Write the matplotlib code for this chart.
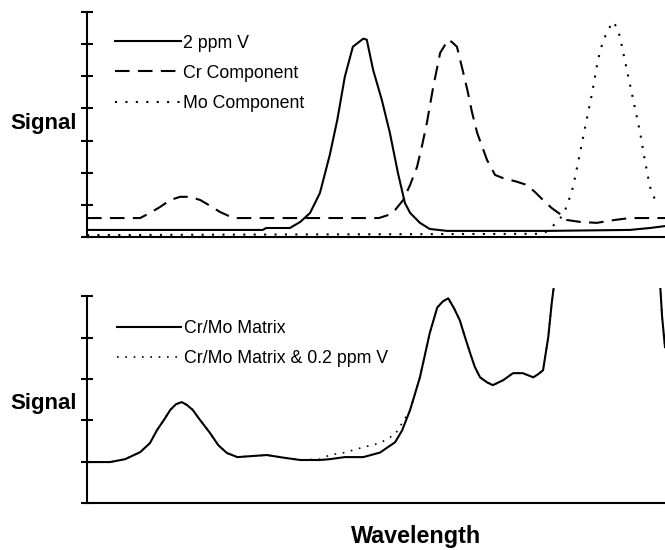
import matplotlib
matplotlib.use("Agg")
import matplotlib.pyplot as plt

plt.rcParams['font.family'] = ['Liberation Sans', 'DejaVu Sans']

# ---- top panel: standard and its components ----
v_x = [0, 30.4, 31.0, 35.1, 36.9, 38.6, 40.3, 42.0, 43.3, 44.6, 46.0, 47.8, 48.4,
       49.5, 51.0, 52.4, 53.8, 55.0, 55.9, 57.6, 59.3, 62.3, 79.6, 93.9, 97.4, 100]
v_y = [0.22, 0.22, 0.28, 0.28, 0.47, 0.75, 1.37, 2.55, 3.64, 4.98, 5.92, 6.17, 6.14,
       5.20, 4.27, 3.24, 1.99, 1.06, 0.75, 0.44, 0.25, 0.19, 0.19, 0.22, 0.28, 0.34]

cr_x = [0, 9.2, 10.9, 12.6, 14.4, 16.1, 17.8, 19.6, 21.3, 23.0, 25.3, 50.5, 52.4,
        53.3, 54.7, 55.9, 57.1, 58.0, 58.8, 59.9, 61.1, 62.5, 63.1, 64.0, 64.9,
        65.8, 66.6, 67.5, 69.2, 70.6, 72.3, 74.0, 76.1, 77.5, 78.9, 80.4, 81.8,
        83.0, 85.3, 88.2, 91.3, 93.9, 100]
cr_y = [0.59, 0.59, 0.75, 0.93, 1.15, 1.25, 1.25, 1.15, 0.97, 0.78, 0.59, 0.59, 0.70,
        0.84, 1.15, 1.62, 2.18, 2.87, 3.55, 4.67, 5.73, 6.14, 6.07, 5.92, 5.26,
        4.58, 3.89, 3.24, 2.40, 1.93, 1.81, 1.74, 1.62, 1.40, 1.15, 0.90, 0.72,
        0.53, 0.47, 0.44, 0.53, 0.59, 0.59]

mo_x = [0, 78.9, 80.1, 81.3, 82.4, 83.2, 84.1, 84.8, 85.5, 86.2, 87.4, 88.4, 89.1,
        89.9, 91.0, 91.7, 92.2, 93.4, 94.5, 95.7, 96.5, 97.4, 98.3]
mo_y = [0.06, 0.10, 0.25, 0.47, 0.69, 1.06, 1.56, 2.18, 2.80, 3.43, 4.49, 5.51, 5.98,
        6.36, 6.70, 6.51, 6.23, 5.20, 4.27, 3.24, 2.40, 1.56, 1.15]

# ---- bottom panel: matrix with and without V ----
wl = [0, 4.0, 6.6, 9.2, 10.9, 12.1, 13.5, 14.4, 15.4, 16.4, 17.3, 18.3, 19.6, 21.3,
      22.7, 24.2, 26.0, 31.1, 34.3, 36.9, 40.3, 42.0, 44.6, 47.8, 50.7, 53.3, 54.5,
      55.9, 57.6, 59.3, 60.6, 61.6, 62.5, 63.5, 64.5, 65.4, 66.3, 67.1, 68.0, 69.2,
      70.2, 72.0, 73.7, 75.4, 77.2, 78.0, 78.9, 79.8, 80.4, 80.8, 82.0, 91.0, 98.9,
      99.2, 99.5, 100]
matrix = [0.99, 0.99, 1.06, 1.23, 1.45, 1.76, 2.05, 2.25, 2.39, 2.44, 2.37, 2.25, 2.00,
          1.69, 1.40, 1.21, 1.11, 1.16, 1.09, 1.04, 1.04, 1.06, 1.11, 1.11, 1.22, 1.47,
          1.75, 2.25, 3.04, 4.11, 4.73, 4.88, 4.95, 4.71, 4.42, 4.01, 3.62, 3.29, 3.04,
          2.92, 2.85, 2.97, 3.14, 3.14, 3.04, 3.11, 3.21, 4.01, 4.83, 5.27, 8.0, 12.0,
          6.5, 5.19, 4.5, 3.77]
matrix_v = [0.99, 0.99, 1.06, 1.23, 1.45, 1.76, 2.05, 2.25, 2.39, 2.44, 2.37, 2.25, 2.00,
            1.69, 1.40, 1.21, 1.11, 1.16, 1.09, 1.04, 1.06, 1.16, 1.22, 1.35, 1.45, 1.66,
            1.93, 2.25, 3.04, 4.11, 4.73, 4.88, 4.95, 4.71, 4.42, 4.01, 3.62, 3.29, 3.04,
            2.92, 2.85, 2.97, 3.14, 3.14, 3.04, 3.11, 3.21, 4.01, 4.83, 5.27, 8.0, 12.0,
            6.5, 5.19, 4.5, 3.77]

LW = 1.5
DASH = (0, (7, 4))
DOT = (0, (1, 4))

fig = plt.figure(figsize=(6.65, 5.5), dpi=100)
ax1 = fig.add_axes([87 / 665, 1 - 237 / 550, 578 / 665, 225 / 550])
ax2 = fig.add_axes([87 / 665, 1 - 503 / 550, 578 / 665, 215 / 550])

ax1.plot(v_x, v_y, color='black', lw=LW, label='2 ppm V')
ax1.plot(cr_x, cr_y, color='black', lw=LW, ls=DASH, label='Cr Component')
ax1.plot(mo_x, mo_y, color='black', lw=LW, ls=DOT, label='Mo Component')
ax1.set_ylim(0, 7)
ax1.set_yticks(range(8))

ax2.plot(wl, matrix_v, color='black', lw=LW * 0.8, ls=DOT, label='Cr/Mo Matrix & 0.2 ppm V', zorder=2)
ax2.plot(wl, matrix, color='black', lw=LW, label='Cr/Mo Matrix', zorder=3)
ax2.set_ylim(0, 5.2)
ax2.set_yticks(range(6))
ax2.spines['left'].set_bounds(0, 5)

for ax in (ax1, ax2):
    ax.set_xlim(0, 100)
    ax.set_xticks([])
    ax.set_yticklabels([])
    for s in ('top', 'right'):
        ax.spines[s].set_visible(False)
    for s in ('left', 'bottom'):
        ax.spines[s].set_linewidth(1.5)
    ax.tick_params(axis='y', direction='inout', length=8, width=1.5)

# legends (handles ordered as in the picture)
h, l = ax1.get_legend_handles_labels()
ax1.legend(h, l, loc='upper left', bbox_to_anchor=(0.048, 0.90), frameon=False,
           fontsize=12.8, handlelength=3.7, handletextpad=0.15, labelspacing=0.74,
           borderpad=0, borderaxespad=0)
h, l = ax2.get_legend_handles_labels()
ax2.legend(h[::-1], l[::-1], loc='upper left', bbox_to_anchor=(0.052, 0.85), frameon=False,
           fontsize=12.8, handlelength=3.6, handletextpad=0.15, labelspacing=0.72,
           borderpad=0, borderaxespad=0)

fig.text(77 / 665, 1 - 123 / 550, 'Signal', ha='right', va='center',
         fontsize=16, fontweight='bold')
fig.text(77 / 665, 1 - 403 / 550, 'Signal', ha='right', va='center',
         fontsize=16, fontweight='bold')
fig.text(416 / 665, 1 - 537 / 550, 'Wavelength', ha='center', va='center',
         fontsize=16.8, fontweight='bold')

fig.savefig('out.png', dpi=100)
